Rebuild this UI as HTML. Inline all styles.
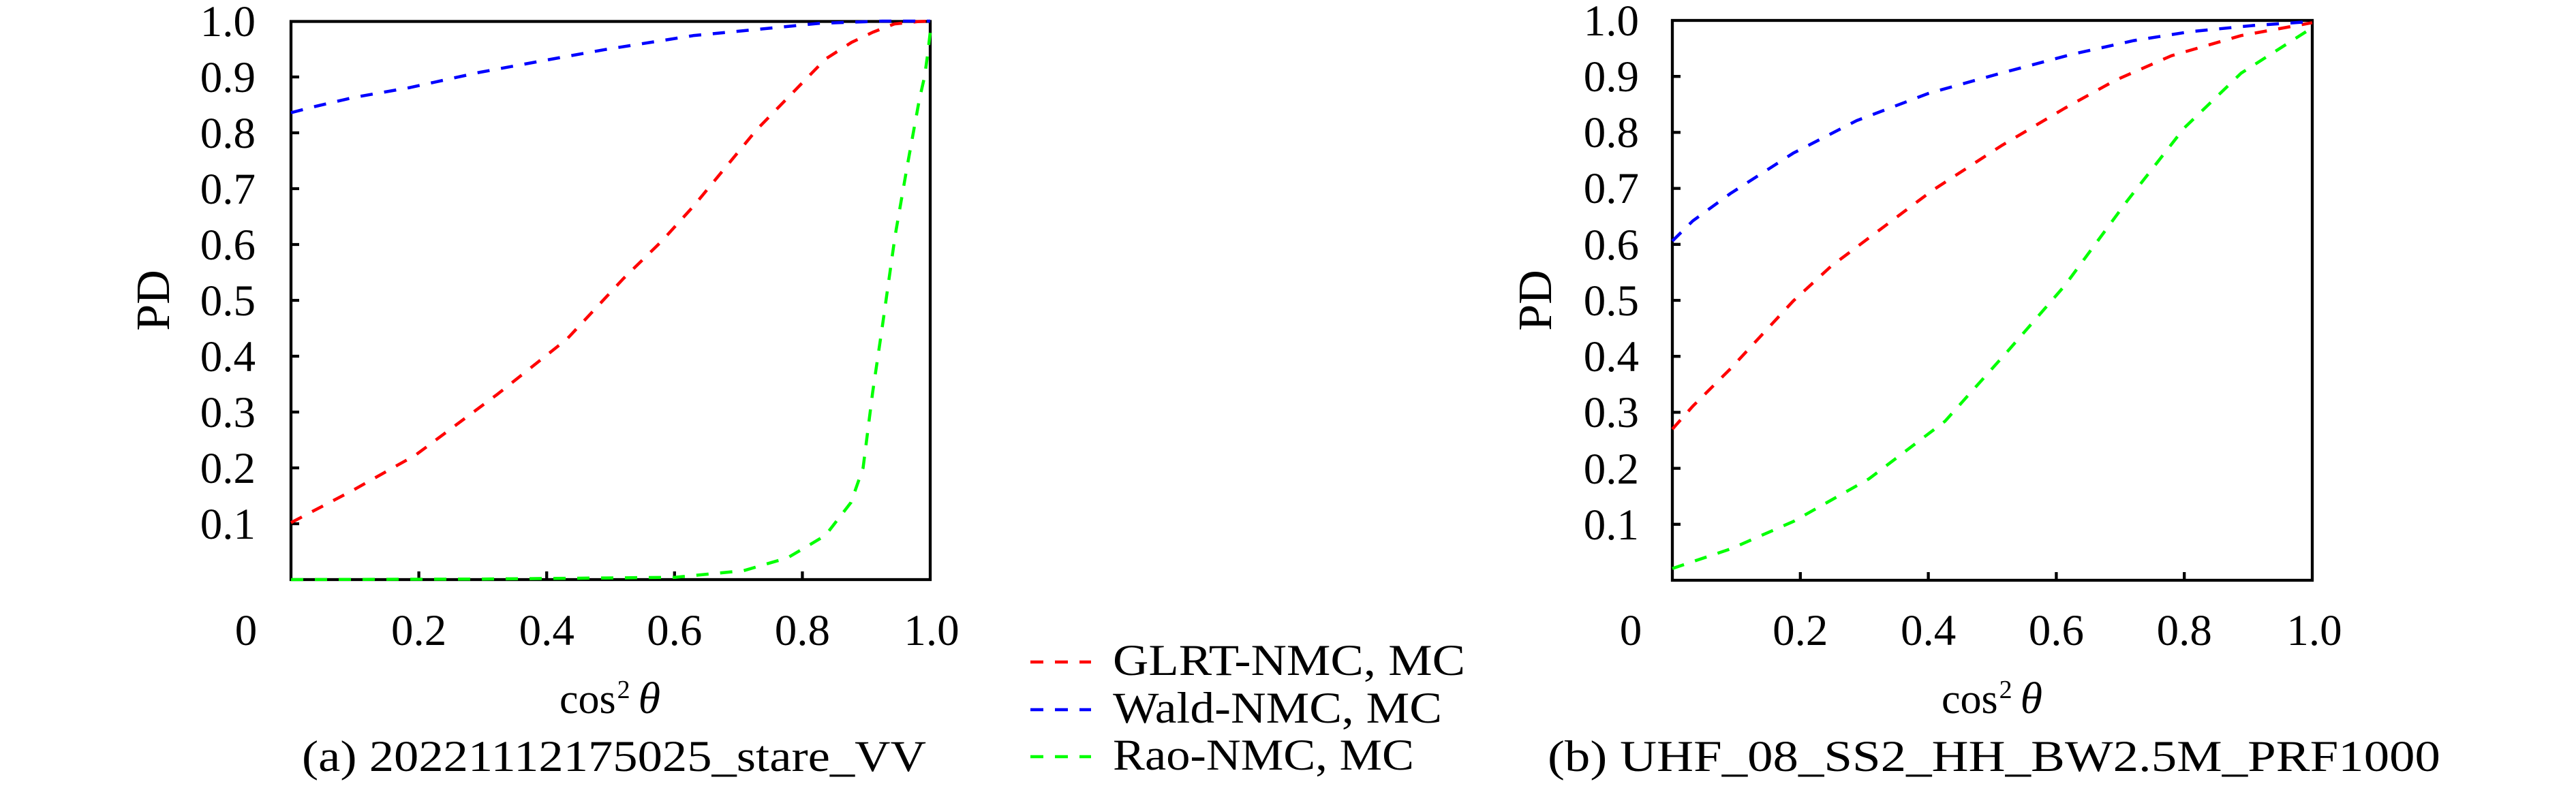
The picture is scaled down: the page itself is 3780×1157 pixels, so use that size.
<!DOCTYPE html>
<html>
<head>
<meta charset="utf-8">
<style>
  html, body { margin: 0; padding: 0; background: #ffffff; }
  svg { display: block; }
  text { font-family: "Liberation Serif", "DejaVu Serif", serif; fill: #000; }
</style>
</head>
<body>
<svg width="3780" height="1157" viewBox="0 0 3780 1157" xmlns="http://www.w3.org/2000/svg" font-family="Liberation Serif, DejaVu Serif, serif">
  <rect x="0" y="0" width="3780" height="1157" fill="#ffffff"/>

  <!-- ================= LEFT PLOT ================= -->
  <g stroke="#000" stroke-width="4.3" fill="none">
    <rect x="427" y="31.5" width="938" height="819.5"/>
    <path d="M427 769H439 M427 687H439 M427 605H439 M427 523H439 M427 441H439 M427 359H439 M427 277H439 M427 195H439 M427 113H439"/>
    <path d="M614.6 851V839 M802.2 851V839 M989.8 851V839 M1177.4 851V839"/>
  </g>

  <g font-size="65" text-anchor="end">
    <text x="375" y="53">1.0</text>
    <text x="375" y="135">0.9</text>
    <text x="375" y="217">0.8</text>
    <text x="375" y="299">0.7</text>
    <text x="375" y="381">0.6</text>
    <text x="375" y="463">0.5</text>
    <text x="375" y="545">0.4</text>
    <text x="375" y="627">0.3</text>
    <text x="375" y="709">0.2</text>
    <text x="375" y="791">0.1</text>
  </g>
  <g font-size="65" text-anchor="middle">
    <text x="361" y="947">0</text>
    <text x="614.6" y="947">0.2</text>
    <text x="802.2" y="947">0.4</text>
    <text x="989.8" y="947">0.6</text>
    <text x="1177.4" y="947">0.8</text>
    <text x="1367" y="947">1.0</text>
  </g>
  <text transform="translate(248,441) rotate(-90)" font-size="70" text-anchor="middle">PD</text>
  <text x="821" y="1047" font-size="62">cos<tspan font-size="38" dy="-22" dx="2">2</tspan><tspan font-size="66" font-style="italic" dy="22" dx="12">θ</tspan></text>
  <text x="443" y="1132" font-size="65" textLength="916" lengthAdjust="spacingAndGlyphs">(a) 20221112175025_stare_VV</text>

  <g fill="none" stroke-width="4.5" stroke-dasharray="18 17" stroke-linejoin="round">
    <polyline stroke="#ff0000" points="427,767.4 518,719.8 609.9,668.1 730,578.8 832.2,497.6 914.8,409 971,354.1 1017.9,302.4 1109.9,190.9 1211.2,86.8 1249.6,62.2 1280.6,47.4 1312.5,35.1 1346.2,31.8 1365,31"/>
    <polyline stroke="#0000ff" points="427,165.5 461.7,156.5 518,143.3 601.5,128.6 702.8,106.4 805,87.6 887.6,72.8 1017,52.3 1109.9,43.3 1201.8,34.3 1294.7,31 1365,31"/>
    <polyline stroke="#00ff00" points="427,851 708.4,850.2 989.8,847.7 1091.1,837.9 1155.8,819 1211.2,786.2 1248.7,737.8 1266.5,687 1280.6,575.5 1294.7,479.5 1313.4,346.7 1331.2,244.2 1349.1,145.8 1356.6,113 1361.2,80.2 1365,47.4"/>
  </g>

  <!-- ================= LEGEND ================= -->
  <g fill="none" stroke-width="4.5" stroke-dasharray="19 17">
    <line x1="1512" y1="972" x2="1601" y2="972" stroke="#ff0000"/>
    <line x1="1512" y1="1042" x2="1601" y2="1042" stroke="#0000ff"/>
    <line x1="1512" y1="1111" x2="1601" y2="1111" stroke="#00ff00"/>
  </g>
  <g font-size="65">
    <text x="1633" y="991" textLength="517" lengthAdjust="spacingAndGlyphs">GLRT-NMC, MC</text>
    <text x="1633" y="1061" textLength="483" lengthAdjust="spacingAndGlyphs">Wald-NMC, MC</text>
    <text x="1633" y="1130" textLength="442" lengthAdjust="spacingAndGlyphs">Rao-NMC, MC</text>
  </g>

  <!-- ================= RIGHT PLOT ================= -->
  <g stroke="#000" stroke-width="4.3" fill="none">
    <rect x="2454" y="30" width="939" height="822"/>
    <path d="M2454 769.8H2466 M2454 687.6H2466 M2454 605.4H2466 M2454 523.2H2466 M2454 441H2466 M2454 358.8H2466 M2454 276.6H2466 M2454 194.4H2466 M2454 112.2H2466"/>
    <path d="M2641.8 852V840 M2829.6 852V840 M3017.4 852V840 M3205.2 852V840"/>
  </g>

  <g font-size="65" text-anchor="end">
    <text x="2405" y="52">1.0</text>
    <text x="2405" y="134">0.9</text>
    <text x="2405" y="216">0.8</text>
    <text x="2405" y="298">0.7</text>
    <text x="2405" y="381">0.6</text>
    <text x="2405" y="463">0.5</text>
    <text x="2405" y="545">0.4</text>
    <text x="2405" y="627">0.3</text>
    <text x="2405" y="710">0.2</text>
    <text x="2405" y="792">0.1</text>
  </g>
  <g font-size="65" text-anchor="middle">
    <text x="2393" y="947">0</text>
    <text x="2641.8" y="947">0.2</text>
    <text x="2829.6" y="947">0.4</text>
    <text x="3017.4" y="947">0.6</text>
    <text x="3205.2" y="947">0.8</text>
    <text x="3396" y="947">1.0</text>
  </g>
  <text transform="translate(2276,441) rotate(-90)" font-size="70" text-anchor="middle">PD</text>
  <text x="2849" y="1047" font-size="62">cos<tspan font-size="38" dy="-22" dx="2">2</tspan><tspan font-size="66" font-style="italic" dy="22" dx="12">θ</tspan></text>
  <text x="2271" y="1132" font-size="65" textLength="1310" lengthAdjust="spacingAndGlyphs">(b) UHF_08_SS2_HH_BW2.5M_PRF1000</text>

  <g fill="none" stroke-width="4.5" stroke-dasharray="18 17" stroke-linejoin="round">
    <polyline stroke="#ff0000" points="2454,630.1 2484,596.4 2539.4,541.3 2631.5,441.8 2686.9,390.9 2751.7,342.4 2835.2,279.9 2936.6,214.1 3029.6,159 3103.8,118 3186.4,81.8 3288.8,52.2 3393,33.3"/>
    <polyline stroke="#0000ff" points="2454,353.9 2484,324.3 2539.4,284 2631.5,224.8 2724.4,177.1 2830.5,136.9 2936.6,107.3 3039,80.1 3131,59.6 3214.6,46.4 3306.6,37.4 3393,31.6"/>
    <polyline stroke="#00ff00" points="2454,834.7 2539.4,806 2631.5,765.7 2742.3,703.2 2854,618.6 2946,515.8 3029.6,419.6 3121.6,294.7 3205.2,187.8 3288.8,107.3 3393,40.7"/>
  </g>
</svg>
</body>
</html>
